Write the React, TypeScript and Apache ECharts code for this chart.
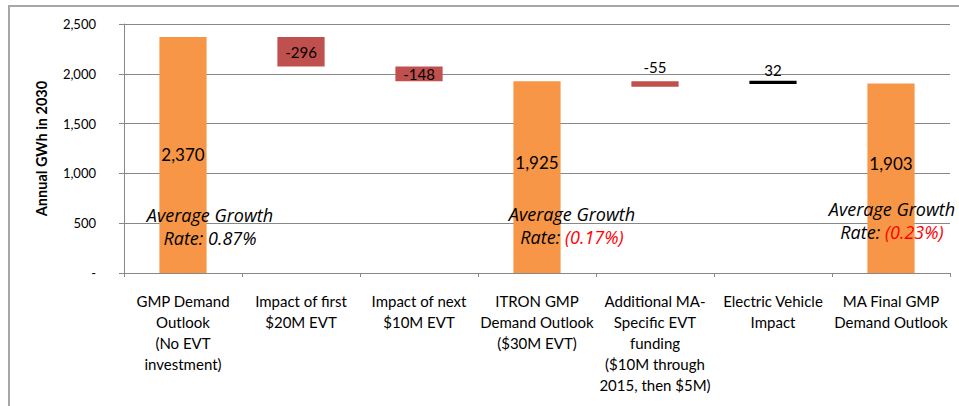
import React, { useEffect, useRef } from "react";
import * as echarts from "echarts";

const categories = [
  "GMP Demand\nOutlook\n(No EVT\ninvestment)",
  "Impact of first\n$20M EVT",
  "Impact of next\n$10M EVT",
  "ITRON GMP\nDemand Outlook\n($30M EVT)",
  "Additional MA-\nSpecific EVT\nfunding\n($10M through\n2015, then $5M)",
  "Electric Vehicle\nImpact",
  "MA Final GMP\nDemand Outlook",
];
// invisible base of each floating bar
const bases = [0, 2074, 1926, 0, 1870, 1898, 0];
// visible height of each bar
const heights = [2370, 296, 148, 1925, 55, 32, 1903];
// signed values shown as labels
const labelValues = [2370, -296, -148, 1925, -55, 32, 1903];
const kinds = ["total", "down", "down", "total", "down", "up", "total"];

const growthNotes = [
  { x: 210, y: 215, rate: "0.87%", neg: false },
  { x: 572, y: 214, rate: "(0.17%)", neg: true },
  { x: 892, y: 209, rate: "(0.23%)", neg: true },
];

const FONT = "Lato, 'Open Sans', sans-serif";
const NOTE_FONT = "'Open Sans', Lato, sans-serif";

function fmt(v: number) {
  return v.toLocaleString("en-US");
}

export default function App() {
  const ref = useRef<HTMLDivElement>(null);
  useEffect(() => {
    if (!ref.current) return;
    const chart = echarts.init(ref.current, null, { renderer: "svg" });
    const colorOf = (k: string) =>
      k === "total" ? "#F79646" : k === "down" ? "#C0504D" : "#000000";
    const labelOffsets = [0, 0, 0, -15, 0, 0, -15];
    const data = heights.map((h, i) => {
      const k = kinds[i];
      const small = i === 4 || i === 5;
      return {
        value: h,
        itemStyle: { color: colorOf(k) },
        label: {
          show: true,
          position: small ? "top" : "inside",
          distance: i === 4 ? 7 : 3,
          offset: [0, labelOffsets[i]],
          fontSize: k === "total" ? 17 : 15,
          color: "#000",
          fontFamily: FONT,
          formatter: () => fmt(labelValues[i]),
        },
      };
    });
    chart.setOption({
      animation: false,
      textStyle: { fontFamily: FONT },
      grid: { left: 124, right: 9, top: 24, bottom: 133, containLabel: false },
      xAxis: {
        type: "category",
        data: categories,
        axisLine: { lineStyle: { color: "#888", width: 1 } },
        axisTick: { show: true, length: 4, alignWithLabel: false, lineStyle: { color: "#888" } },
        axisLabel: {
          interval: 0,
          fontSize: 15,
          lineHeight: 21,
          color: "#000",
          fontFamily: FONT,
          margin: 17,
        },
      },
      yAxis: {
        type: "value",
        min: 0,
        max: 2500,
        interval: 500,
        name: "Annual GWh in 2030",
        nameLocation: "middle",
        nameGap: 75,
        nameTextStyle: { fontSize: 14.5, fontWeight: "bold", color: "#000", fontFamily: FONT },
        axisLine: { show: true, lineStyle: { color: "#888" } },
        axisTick: { show: true, length: 5, lineStyle: { color: "#888" } },
        splitLine: { show: true, lineStyle: { color: "#888", width: 1 } },
        axisLabel: {
          fontSize: 13,
          color: "#000",
          margin: 28,
          fontFamily: FONT,
          formatter: (v: number) => (v === 0 ? "-" : fmt(v)),
        },
      },
      series: [
        {
          type: "bar",
          stack: "w",
          data: bases,
          itemStyle: { color: "transparent" },
          silent: true,
          barWidth: "40%",
        },
        {
          type: "bar",
          stack: "w",
          data,
          barWidth: "40%",
        },
      ],
      graphic: [
        {
          type: "rect",
          shape: { x: 9, y: 6, width: 1000, height: 500 },
          style: { fill: "none", stroke: "#a6a6a6", lineWidth: 2 },
          silent: true,
        },
        ...growthNotes.map((n) => ({
          type: "text",
          x: n.x,
          y: n.y - 12,
          style: {
            text: `{a|Average Growth}\n{a|Rate: }{${n.neg ? "red" : "a"}|${n.rate}}`,
            align: "center",
            verticalAlign: "top",
            rich: {
              a: { fontSize: 18, fontStyle: "italic", fill: "#000", fontFamily: NOTE_FONT, lineHeight: 23 },
              red: { fontSize: 18, fontStyle: "italic", fill: "#ff0000", fontFamily: NOTE_FONT, lineHeight: 23 },
            },
          },
          z: 10,
        })),
      ],
    });
    return () => chart.dispose();
  }, []);
  return (
    <div
      ref={ref}
      style={{ position: "fixed", left: 0, top: 0, width: 959, height: 406, background: "#fff" }}
    />
  );
}
